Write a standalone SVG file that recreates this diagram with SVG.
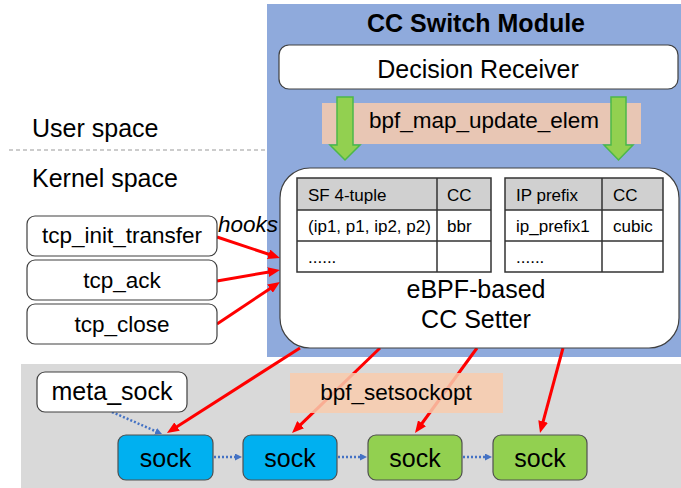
<svg xmlns="http://www.w3.org/2000/svg" width="681" height="488" viewBox="0 0 681 488">
<style>
text{font-family:"Liberation Sans",Arial,sans-serif;fill:#000}
.box{fill:#fff;stroke:#404040;stroke-width:1.2}
.lbl{fill:#F8CBAD;opacity:0.85}
.red{stroke:#FF0000;stroke-width:3;fill:none;marker-end:url(#ar)}
.dot{stroke:#4472C4;stroke-width:2.5;stroke-dasharray:2 2;fill:none;marker-end:url(#ab)}
.sb{fill:#00B0F0;stroke:#505050;stroke-width:1.2}
.sg{fill:#92D050;stroke:#505050;stroke-width:1.2}
.hdr{fill:#D0D0D0}
.tl{stroke:#333;stroke-width:1.5;fill:none}
.t17{font-size:17px}
.t22{font-size:22.5px}
.t25{font-size:25px}
.ga{fill:#92D050;stroke:#4CB848;stroke-width:1.5}
</style>
<defs>
<marker id="ar" markerUnits="userSpaceOnUse" markerWidth="12" markerHeight="10" refX="4" refY="5" orient="auto"><path d="M0,0 L12,5 L0,10 z" fill="#FF0000"/></marker>
<marker id="ab" markerUnits="userSpaceOnUse" markerWidth="8" markerHeight="8" refX="0" refY="3.5" orient="auto"><path d="M0,0 L7,3.5 L0,7 z" fill="#4472C4"/></marker>
</defs>
<rect x="0" y="0" width="681" height="488" fill="#fff"/>
<rect x="21" y="364" width="660" height="124" fill="#D9D9D9"/>
<rect x="267" y="4" width="414" height="353" fill="#8FAADC"/>
<line x1="9" y1="150" x2="267" y2="150" stroke="#999" stroke-width="1.2" stroke-dasharray="4 3"/>
<text x="32" y="137" class="t25">User space</text>
<text x="32" y="187" class="t25">Kernel space</text>
<text x="476" y="32" font-size="25" font-weight="bold" text-anchor="middle">CC Switch Module</text>

<g id="connectors">
<line class="red" x1="217" y1="237" x2="272.4" y2="255.5"/>
<line class="red" x1="217" y1="281" x2="272.1" y2="271.4"/>
<line class="red" x1="217" y1="324" x2="273.3" y2="286.4"/>
<line class="red" x1="300" y1="348" x2="173.7" y2="428.7"/>
<line class="red" x1="380" y1="348" x2="297.8" y2="427.4"/>
<line class="red" x1="477" y1="348" x2="419.7" y2="426.5"/>
<line class="red" x1="563" y1="348" x2="542.1" y2="425.3"/>
<line class="dot" x1="112" y1="412" x2="155.6" y2="431.2"/>
<line class="dot" x1="214" y1="457" x2="235" y2="457"/>
<line class="dot" x1="338" y1="457" x2="360" y2="457"/>
<line class="dot" x1="463" y1="457" x2="485" y2="457"/>
</g>

<g id="decision-receiver">
<rect class="box" x="279" y="45" width="399" height="44" rx="10"/>
<text x="478" y="78" class="t25" text-anchor="middle">Decision Receiver</text>
</g>
<g id="bpf-map-update-elem">
<rect class="lbl" x="322" y="103" width="319" height="41"/>
<text x="484" y="128" class="t22" text-anchor="middle">bpf_map_update_elem</text>
<polygon class="ga" points="337,97 353,97 353,145 360,145 345,160 330,145 337,145"/>
<polygon class="ga" points="611,97 626,97 626,145 633,145 618.5,160 604,145 611,145"/>
</g>

<g id="cc-setter">
<rect class="box" x="280" y="168" width="399" height="180" rx="30"/>
<rect class="hdr" x="297" y="178" width="194" height="32"/>
<rect class="hdr" x="505" y="178" width="158" height="32"/>
<path class="tl" d="M297,178 H491 V272 H297 Z M297,210 H491 M297,241 H491 M437,178 V272"/>
<path class="tl" d="M505,178 H663 V272 H505 Z M505,210 H663 M505,241 H663 M602,178 V272"/>
<text x="308" y="201" class="t17">SF 4-tuple</text>
<text x="447" y="201" class="t17">CC</text>
<text x="308" y="232" class="t17">(ip1, p1, ip2, p2)</text>
<text x="447" y="232" class="t17">bbr</text>
<text x="308" y="263" class="t17">......</text>
<text x="516" y="201" class="t17">IP prefix</text>
<text x="613" y="201" class="t17">CC</text>
<text x="516" y="232" class="t17">ip_prefix1</text>
<text x="613" y="232" class="t17">cubic</text>
<text x="516" y="263" class="t17">......</text>
<text x="476" y="298" class="t25" text-anchor="middle">eBPF-based</text>
<text x="476" y="328" class="t25" text-anchor="middle">CC Setter</text>
</g>

<g id="hooks-label"><text x="218" y="232" class="t22" font-style="italic">hooks</text></g>
<g id="tcp-init-transfer">
<rect class="box" x="27" y="216" width="190" height="40" rx="8"/>
<text x="122" y="243" class="t22" text-anchor="middle">tcp_init_transfer</text>
</g>
<g id="tcp-ack">
<rect class="box" x="27" y="260" width="190" height="40" rx="8"/>
<text x="122" y="288" class="t22" text-anchor="middle">tcp_ack</text>
</g>
<g id="tcp-close">
<rect class="box" x="27" y="304" width="190" height="40" rx="8"/>
<text x="122" y="332" class="t22" text-anchor="middle">tcp_close</text>
</g>

<g id="bpf-setsockopt">
<rect class="lbl" x="290" y="373" width="213" height="40"/>
<text x="396" y="400" class="t22" text-anchor="middle">bpf_setsockopt</text>
</g>
<g id="meta-sock">
<rect class="box" x="37" y="372" width="150" height="40" rx="8"/>
<text x="112" y="400" class="t25" text-anchor="middle">meta_sock</text>
</g>
<g id="sock1">
<rect class="sb" x="118" y="435" width="95" height="45" rx="8"/>
<text x="165.5" y="467" class="t25" text-anchor="middle">sock</text>
</g>
<g id="sock2">
<rect class="sb" x="243" y="435" width="94" height="45" rx="8"/>
<text x="290" y="467" class="t25" text-anchor="middle">sock</text>
</g>
<g id="sock3">
<rect class="sg" x="368" y="435" width="94" height="45" rx="8"/>
<text x="415" y="467" class="t25" text-anchor="middle">sock</text>
</g>
<g id="sock4">
<rect class="sg" x="493" y="435" width="94" height="45" rx="8"/>
<text x="540" y="467" class="t25" text-anchor="middle">sock</text>
</g>
</svg>
